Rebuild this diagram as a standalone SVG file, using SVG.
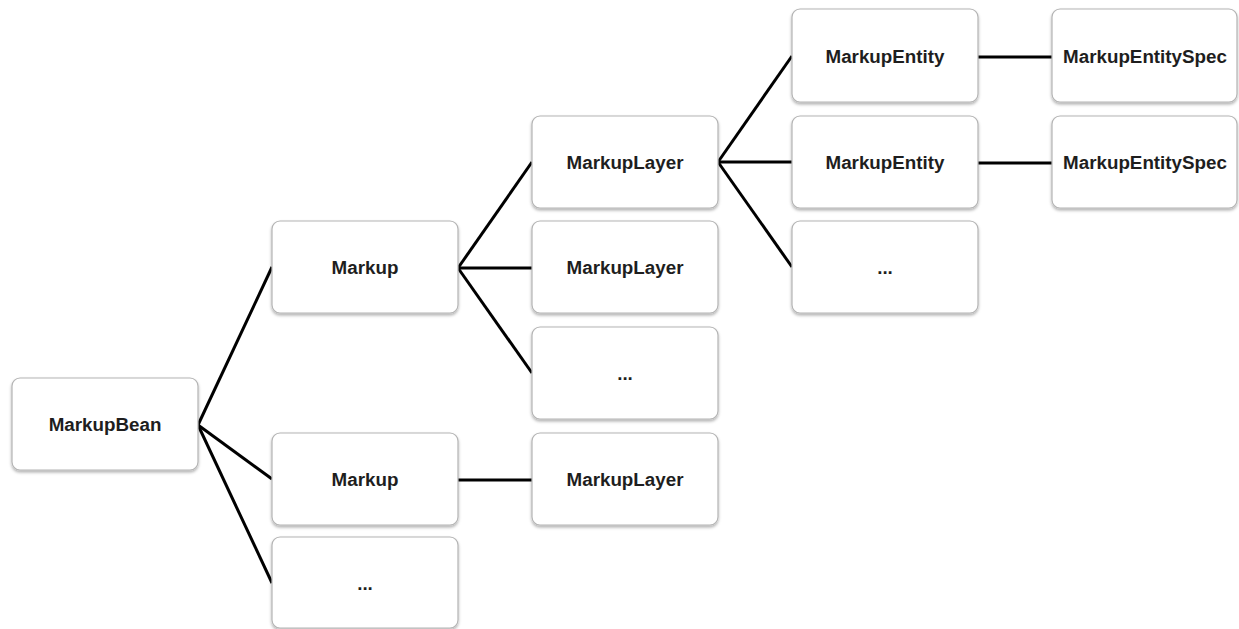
<svg xmlns="http://www.w3.org/2000/svg" width="1239" height="629" viewBox="0 0 1239 629">
<style>
.box{fill:#ffffff;stroke:#b4b4b4;stroke-width:1.2;filter:url(#sh)}
.lbl{font-family:"Liberation Sans",Arial,sans-serif;font-weight:bold;font-size:18.8px;fill:#1e1e1e;text-anchor:middle}
.con{stroke:#000000;stroke-width:3;fill:none;stroke-linecap:butt}
</style>
<defs>
<filter id="sh" x="-10%" y="-10%" width="120%" height="125%">
<feDropShadow dx="0" dy="2" stdDeviation="1.5" flood-color="#000000" flood-opacity="0.3"/>
</filter>
</defs>
<rect width="1239" height="629" fill="#ffffff"/>
<g id="connectors">
<line class="con" x1="198" y1="425" x2="272" y2="267"/>
<line class="con" x1="198" y1="425" x2="272" y2="479"/>
<line class="con" x1="198" y1="425" x2="272" y2="583"/>
<line class="con" x1="458" y1="268" x2="532" y2="162"/>
<line class="con" x1="458" y1="268" x2="532" y2="268"/>
<line class="con" x1="458" y1="268" x2="532" y2="373"/>
<line class="con" x1="458" y1="480" x2="532" y2="480"/>
<line class="con" x1="718" y1="162" x2="792" y2="56"/>
<line class="con" x1="718" y1="162" x2="792" y2="162"/>
<line class="con" x1="718" y1="162" x2="792" y2="267"/>
<line class="con" x1="978" y1="57" x2="1052" y2="57"/>
<line class="con" x1="978" y1="163" x2="1052" y2="163"/>
</g>
<g id="markupbean"><rect class="box" x="12" y="378" width="186" height="92" rx="8"/><text class="lbl" x="105" y="431">MarkupBean</text></g>
<g id="markup1"><rect class="box" x="272" y="221" width="186" height="92" rx="8"/><text class="lbl" x="365" y="274">Markup</text></g>
<g id="markup2"><rect class="box" x="272" y="433" width="186" height="92" rx="8"/><text class="lbl" x="365" y="486">Markup</text></g>
<g id="markup-more"><rect class="box" x="272" y="537" width="186" height="91" rx="8"/><text class="lbl" x="365" y="590">...</text></g>
<g id="layer1"><rect class="box" x="532" y="116" width="186" height="92" rx="8"/><text class="lbl" x="625" y="169">MarkupLayer</text></g>
<g id="layer2"><rect class="box" x="532" y="221" width="186" height="92" rx="8"/><text class="lbl" x="625" y="274">MarkupLayer</text></g>
<g id="layer-more"><rect class="box" x="532" y="327" width="186" height="92" rx="8"/><text class="lbl" x="625" y="380">...</text></g>
<g id="layer3"><rect class="box" x="532" y="433" width="186" height="92" rx="8"/><text class="lbl" x="625" y="486">MarkupLayer</text></g>
<g id="entity1"><rect class="box" x="792" y="9" width="186" height="93" rx="8"/><text class="lbl" x="885" y="63">MarkupEntity</text></g>
<g id="entity2"><rect class="box" x="792" y="116" width="186" height="92" rx="8"/><text class="lbl" x="885" y="169">MarkupEntity</text></g>
<g id="entity-more"><rect class="box" x="792" y="221" width="186" height="92" rx="8"/><text class="lbl" x="885" y="274">...</text></g>
<g id="spec1"><rect class="box" x="1052" y="9" width="185" height="93" rx="8"/><text class="lbl" x="1145" y="63">MarkupEntitySpec</text></g>
<g id="spec2"><rect class="box" x="1052" y="116" width="185" height="92" rx="8"/><text class="lbl" x="1145" y="169">MarkupEntitySpec</text></g>
</svg>
